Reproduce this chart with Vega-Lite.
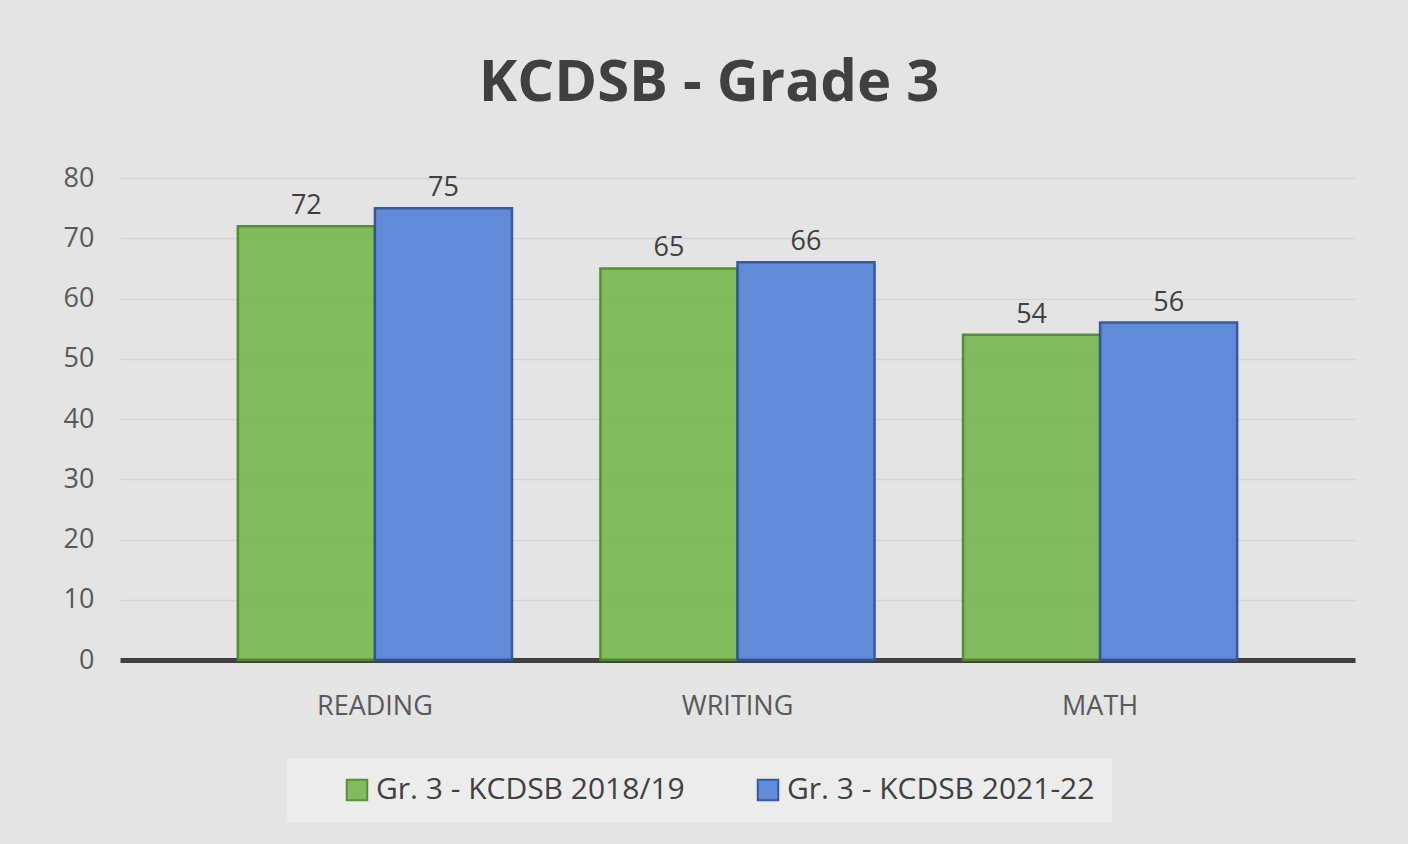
{
  "$schema": "https://vega.github.io/schema/vega-lite/v6.json",
  "autosize": {"type": "none"},
  "width": 1235,
  "height": 482,
  "padding": {"left": 120, "top": 178, "right": 53, "bottom": 184},
  "background": "#e4e4e4",
  "title": {
    "text": "KCDSB - Grade 3",
    "fontSize": 58,
    "font": "Open Sans",
    "fontWeight": "bold",
    "color": "#404040",
    "anchor": "middle",
    "frame": "bounds",
    "offset": 51
  },
  "data": {
    "values": [
      {"subject": "READING", "series": "Gr. 3 - KCDSB 2018/19", "value": 72},
      {"subject": "READING", "series": "Gr. 3 - KCDSB 2021-22", "value": 75},
      {"subject": "WRITING", "series": "Gr. 3 - KCDSB 2018/19", "value": 65},
      {"subject": "WRITING", "series": "Gr. 3 - KCDSB 2021-22", "value": 66},
      {"subject": "MATH", "series": "Gr. 3 - KCDSB 2018/19", "value": 54},
      {"subject": "MATH", "series": "Gr. 3 - KCDSB 2021-22", "value": 56}
    ]
  },
  "encoding": {
    "x": {
      "field": "subject",
      "type": "nominal",
      "sort": ["READING", "WRITING", "MATH"],
      "scale": {"paddingInner": 0.244, "paddingOuter": 0.325},
      "axis": {
        "title": null,
        "labelAngle": 0,
        "labelFontSize": 27,
        "labelFont": "Open Sans",
        "labelColor": "#595959",
        "labelPadding": 33,
        "ticks": false,
        "domainColor": "#404040",
        "domainWidth": 5
      }
    },
    "xOffset": {"field": "series", "type": "nominal"},
    "y": {
      "field": "value",
      "type": "quantitative",
      "scale": {"domain": [0, 80], "nice": false},
      "axis": {
        "title": null,
        "values": [0, 10, 20, 30, 40, 50, 60, 70, 80],
        "labelFontSize": 27,
        "labelFont": "Open Sans",
        "labelColor": "#595959",
        "labelPadding": 26,
        "ticks": false,
        "domain": false,
        "gridColor": "#d4d4d4",
        "gridWidth": 1.5
      }
    }
  },
  "layer": [
    {
      "mark": {"type": "bar", "strokeWidth": 2.5, "opacity": 0.95},
      "encoding": {
        "color": {
          "field": "series",
          "type": "nominal",
          "scale": {
            "domain": ["Gr. 3 - KCDSB 2018/19", "Gr. 3 - KCDSB 2021-22"],
            "range": ["#7cb957", "#5a87d6"]
          },
          "legend": {
            "title": null,
            "orient": "none",
            "legendX": 167,
            "legendY": 580,
            "direction": "horizontal",
            "symbolType": "square",
            "symbolSize": 420,
            "symbolStrokeWidth": 2,
            "symbolOffset": 38,
            "labelFontSize": 30,
            "labelFont": "Open Sans",
            "labelColor": "#404040",
            "labelLimit": 400,
            "columnPadding": 30,
            "fillColor": "#ececec",
            "padding": 17
          }
        },
        "stroke": {
          "field": "series",
          "type": "nominal",
          "scale": {
            "domain": ["Gr. 3 - KCDSB 2018/19", "Gr. 3 - KCDSB 2021-22"],
            "range": ["#4f8a2f", "#2f539b"]
          },
          "legend": null
        }
      }
    },
    {
      "mark": {"type": "text", "dy": -20, "fontSize": 27, "font": "Open Sans", "color": "#404040"},
      "encoding": {
        "text": {"field": "value", "type": "quantitative"}
      }
    }
  ],
  "config": {"view": {"stroke": null}}
}
